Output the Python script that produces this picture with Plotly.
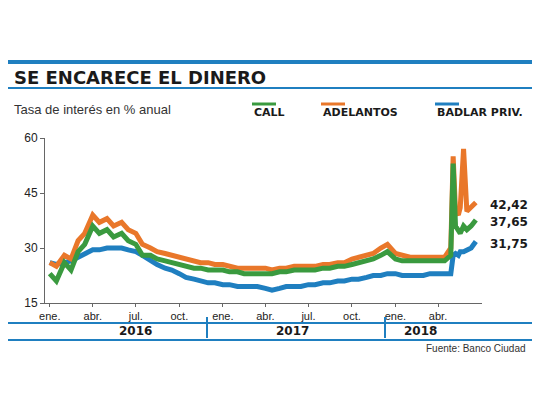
import plotly.graph_objects as go

fechas = ["2016-01-01","2016-01-15","2016-02-01","2016-02-15","2016-03-01","2016-03-15","2016-04-01","2016-04-15",
          "2016-05-01","2016-05-15","2016-06-01","2016-06-15","2016-07-01","2016-07-15","2016-08-01","2016-08-15",
          "2016-09-01","2016-09-15","2016-10-01","2016-10-15","2016-11-01","2016-11-15","2016-12-01","2016-12-15",
          "2017-01-01","2017-01-15","2017-02-01","2017-02-15","2017-03-01","2017-03-15","2017-04-01","2017-04-15",
          "2017-05-01","2017-05-15","2017-06-01","2017-06-15","2017-07-01","2017-07-15","2017-08-01","2017-08-15",
          "2017-09-01","2017-09-15","2017-10-01","2017-10-15","2017-11-01","2017-11-15","2017-12-01","2017-12-15",
          "2018-01-01","2018-01-15","2018-02-01","2018-02-15","2018-03-01","2018-03-15","2018-04-01","2018-04-15",
          "2018-04-28","2018-05-03","2018-05-08","2018-05-14","2018-05-18","2018-05-25","2018-06-01","2018-06-10","2018-06-20"]

call = [23,21,26,24,29,31,36,34,35,33,34,32,31,28,28,27,26.5,26,25.5,25,24.5,24.5,24,24,
        24,23.5,23.5,23,23,23,23,23,23.5,23.5,24,24,24,24,24.5,24.5,25,25,25.5,26,26.5,27,
        28,29,27,26.5,26.5,26.5,26.5,26.5,26.5,26.5,
        28,53,36,35,34,36,35,36,37.65]
adelantos = [26,25,28,27,32,34,39,37,38,36,37,35,34,31,30,29,28.5,28,27.5,27,26.5,26,26,25.5,
             25.5,25,24.5,24.5,24.5,24.5,24.5,24,24.5,24.5,25,25,25,25,25.5,25.5,26,26,27,27.5,28,28.5,
             30,31,28.5,28,27.5,27.5,27.5,27.5,27.5,27.5,
             30,55,40,39,41,57,40,41,42.42]
badlar = [26,25.5,26,26.5,27.5,28.5,29.5,29.5,30,30,30,29.5,29,28,26.5,25.5,24.5,24,23,22,21.5,21,20.5,20.5,
          20,20,19.5,19.5,19.5,19.5,19,18.5,19,19.5,19.5,19.5,20,20,20.5,20.5,21,21,21.5,21.5,22,22.5,
          22.5,23,23,22.5,22.5,22.5,22.5,23,23,23,
          23,28,28.5,28,29,29,29.5,30,31.75]

series = [("CALL", call, "#3a9a3f"), ("ADELANTOS", adelantos, "#e9772a"), ("BADLAR PRIV.", badlar, "#1f7fc0")]
ultimos = ["42,42", "37,65", "31,75"]

tick_vals = ["2016-01-01","2016-04-01","2016-07-01","2016-10-01","2017-01-01","2017-04-01","2017-07-01",
             "2017-10-01","2018-01-01","2018-04-01"]
tick_text = ["ene.","abr.","jul.","oct.","ene.","abr.","jul.","oct.","ene.","abr."]
anios = ["2016","2017","2018"]

# page body has an 8px margin, so the figure is drawn 8px smaller and coordinates are shifted
OFF = 8
W, H = 540 - OFF, 405 - OFF
L, R, T, B = 45 - OFF, 482 - OFF, 138 - OFF, 303 - OFF
px = lambda x: (x - OFF - L) / (R - L)
py = lambda y: (B - (y - OFF)) / (B - T)
azul = "#1f7fc0"

fig = go.Figure()
for nombre, vals, clr in [series[2], series[1], series[0]]:
    fig.add_trace(go.Scatter(x=fechas, y=vals, mode="lines", name=nombre,
                             line=dict(color=clr, width=5)))

fig.update_xaxes(range=["2015-12-22", "2018-07-03"], tickvals=tick_vals, ticktext=tick_text,
                 showgrid=False, showline=True, linecolor="#666", linewidth=1, ticks="outside",
                 ticklen=3, tickcolor="#666", tickfont=dict(size=11, color="#222"))
fig.update_yaxes(range=[15, 60], tickvals=[15, 30, 45, 60], showgrid=False, showline=True,
                 linecolor="#666", linewidth=1, ticks="outside", ticklen=4, tickcolor="#666",
                 tickfont=dict(size=12, color="#222"))

shapes = []
for y, w in [(62, 4), (88, 2), (323, 2), (340, 2)]:
    shapes.append(dict(type="line", xref="paper", yref="paper", x0=px(0), x1=px(545), y0=py(y), y1=py(y),
                       line=dict(color=azul, width=w)))
for x in [207, 385]:
    shapes.append(dict(type="line", xref="paper", yref="paper", x0=px(x), x1=px(x), y0=py(317), y1=py(338),
                       line=dict(color=azul, width=2)))
leg_x = [(252, 276), (321, 345), (435, 459)]
for (x0, x1), (_, _, clr) in zip(leg_x, series):
    shapes.append(dict(type="line", xref="paper", yref="paper", x0=px(x0), x1=px(x1), y0=py(104), y1=py(104),
                       line=dict(color=clr, width=3)))

ann = [
    dict(x=px(12), y=py(77), text="<b>SE ENCARECE EL DINERO</b>", xanchor="left",
         font=dict(size=18, family="DejaVu Sans", color="#1a1a1a")),
    dict(x=px(12), y=py(109), text="Tasa de interés en % anual", xanchor="left",
         font=dict(size=13, family="Liberation Sans", color="#333")),
    dict(x=px(528), y=py(348), text="Fuente: Banco Ciudad", xanchor="right",
         font=dict(size=10, family="Liberation Sans", color="#333")),
]
for (x0, _), (nombre, _, _) in zip(leg_x, series):
    ann.append(dict(x=px(x0), y=py(112), text="<b>" + nombre + "</b>", xanchor="left",
                    font=dict(size=11, family="DejaVu Sans", color="#1a1a1a")))
for t, y in zip(ultimos, [205, 222, 244]):
    ann.append(dict(x=px(488), y=py(y), text="<b>" + t + "</b>", xanchor="left",
                    font=dict(size=12, family="DejaVu Sans", color="#1a1a1a")))
for t, x in zip(anios, [135, 292, 420]):
    ann.append(dict(x=px(x), y=py(331), text="<b>" + t + "</b>", xanchor="center",
                    font=dict(size=12, family="DejaVu Sans", color="#1a1a1a")))
for a in ann:
    a.update(xref="paper", yref="paper", showarrow=False, yanchor="middle")

fig.update_layout(width=W, height=H, margin=dict(l=L, r=W - R, t=T, b=H - B),
                  paper_bgcolor="white", plot_bgcolor="white", showlegend=False,
                  font=dict(family="Liberation Sans"), shapes=shapes, annotations=ann)
fig.write_html("out.html")
